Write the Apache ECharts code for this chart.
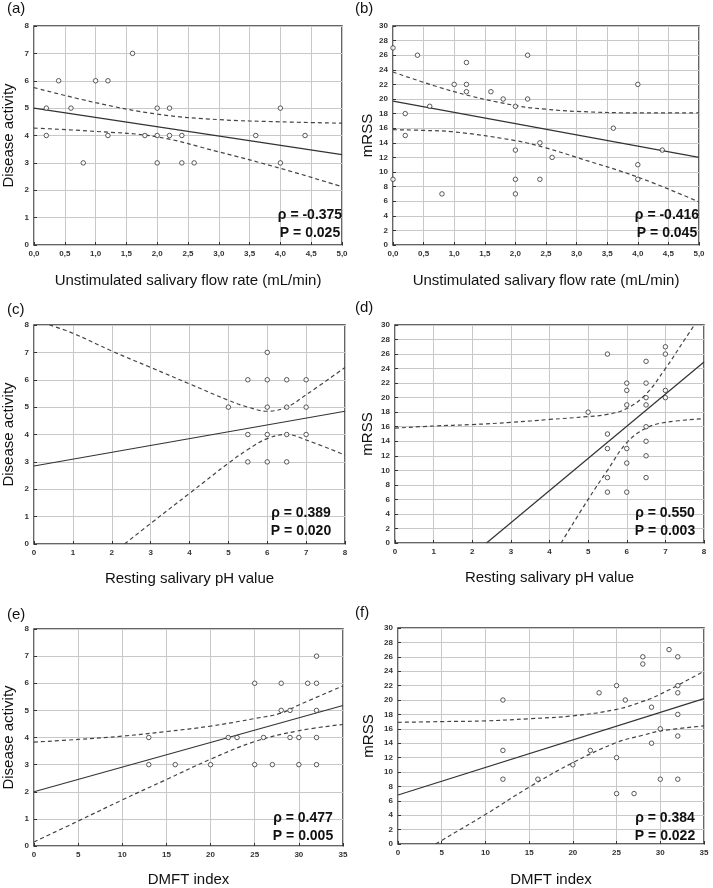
<!DOCTYPE html>
<html><head><meta charset="utf-8">
<script src="https://cdn.jsdelivr.net/npm/echarts@6/dist/echarts.min.js"></script>
<style>html,body{margin:0;padding:0;background:#fff}#c{width:713px;height:888px}</style>
</head><body><div id="c"></div>
<script>
// Panel (a): flow rate vs disease activity
const aX = [0.2,0.2,0.4,0.6,0.8,1.0,1.2,1.2,1.6,1.8,2.0,2.0,2.0,2.2,2.2,2.4,2.4,2.6,3.6,4.0,4.0,4.4];
const aY = [5,4,6,5,3,6,6,4,7,4,5,4,3,5,4,4,3,3,4,5,3,4];
const aFit = [[0,5.0],[5,3.3]];
const aUpper = [[0,5.75],[1,5.2],[2,4.78],[3,4.58],[4,4.5],[5,4.45]];
const aLower = [[0,4.27],[1,4.15],[2,3.95],[3,3.4],[4,2.8],[5,2.13]];
// Panel (b): flow rate vs mRSS
const bX = [0,0,0.2,0.2,0.4,0.6,0.8,1.0,1.2,1.2,1.2,1.6,1.8,2.0,2.0,2.0,2.0,2.2,2.2,2.4,2.4,2.6,3.6,4.0,4.0,4.0,4.4];
const bY = [27,9,18,15,26,19,7,22,25,22,21,21,20,19,13,9,7,26,20,14,9,12,16,22,11,9,13];
const bFit = [[0,19.7],[5,12.0]];
const bUpper = [[0,23.7],[1,21.0],[2,19.1],[2.5,18.6],[3,18.3],[4,18.1],[5,18.1]];
const bLower = [[0,15.8],[0.5,15.7],[1,15.5],[2,14.3],[2.5,13.3],[3,12.0],[4,9.3],[5,5.9]];
// Panel (c): pH vs disease activity
const cX = [5,5.5,5.5,5.5,6,6,6,6,6,6.5,6.5,6.5,6.5,7,7,7];
const cY = [5,6,4,3,7,6,5,4,3,6,5,4,3,6,5,4];
const cFit = [[0,2.85],[8,4.85]];
const cUpper = [[0.4,8],[1,7.7],[2,7.05],[3,6.45],[4,5.85],[5,5.25],[5.5,5.0],[6,4.85],[6.5,5.0],[7,5.45],[8,6.45]];
const cLower = [[2.33,0],[3,0.75],[4,1.85],[5,2.95],[5.5,3.45],[6,3.85],[6.5,4.0],[7,3.8],[8,3.25]];
// Panel (d): pH vs mRSS
const dX = [5,5.5,5.5,5.5,5.5,5.5,6,6,6,6,6,6,6.5,6.5,6.5,6.5,6.5,6.5,6.5,6.5,7,7,7,7];
const dY = [18,26,15,13,9,7,22,21,19,13,11,7,25,22,20,19,16,14,12,9,27,26,21,20];
const dFit = [[2.37,0],[8,24.9]];
const dUpper = [[0,15.8],[1,16.1],[2,16.3],[3,16.6],[4,17.0],[5,17.4],[5.5,17.7],[6,18.5],[6.5,20.5],[7,24.0],[7.5,28.0],[7.75,30]];
const dLower = [[4.3,0],[5,6.0],[5.5,10.0],[6,13.8],[6.5,15.8],[7,16.6],[8,17.1]];
// Panel (e): DMFT vs disease activity
const eX = [13,13,16,20,22,23,25,25,26,27,28,28,29,29,30,30,31,32,32,32,32,32];
const eY = [4,3,3,3,4,4,6,3,4,3,6,5,5,4,4,3,6,7,6,5,4,3];
const eFit = [[0,2.0],[35,5.18]];
const eUpper = [[0,3.83],[5,3.93],[10,4.05],[15,4.22],[20,4.42],[25,4.7],[28,4.9],[30,5.2],[35,5.9]];
const eLower = [[0,0.15],[5,0.92],[10,1.7],[15,2.45],[20,3.2],[25,3.85],[30,4.25],[35,4.48]];
// Panel (f): DMFT vs mRSS
const fX = [12,12,12,16,20,22,23,25,25,25,26,27,28,28,29,29,30,30,31,32,32,32,32,32,32];
const fY = [20,13,9,9,11,13,21,22,12,7,20,7,26,25,19,14,16,9,27,26,22,21,18,15,9];
const fFit = [[0,6.8],[35,20.2]];
const fUpper = [[0,16.9],[5,17.0],[10,17.1],[15,17.4],[20,17.8],[25,18.7],[28,19.8],[30,20.8],[35,24.0]];
const fLower = [[4.3,0],[5,0.5],[10,4.1],[15,7.9],[20,11.3],[25,14.1],[28,15.1],[30,15.7],[35,16.4]];

const panelLabels = ['(a)','(b)','(c)','(d)','(e)','(f)'];
const xTitles = ['Unstimulated salivary flow rate (mL/min)','Unstimulated salivary flow rate (mL/min)','Resting salivary pH value','Resting salivary pH value','DMFT index','DMFT index'];
const yTitles = ['Disease activity','mRSS','Disease activity','mRSS','Disease activity','mRSS'];
const rhoTexts = ['ρ = -0.375','ρ = -0.416','ρ = 0.389','ρ = 0.550','ρ = 0.477','ρ = 0.384'];
const pTexts = ['P = 0.025','P = 0.045','P = 0.020','P = 0.003','P = 0.005','P = 0.022'];

const xs = [aX,bX,cX,dX,eX,fX], ys = [aY,bY,cY,dY,eY,fY];
const fits = [aFit,bFit,cFit,dFit,eFit,fFit];
const uppers = [aUpper,bUpper,cUpper,dUpper,eUpper,fUpper];
const lowers = [aLower,bLower,cLower,dLower,eLower,fLower];

const grids = [
  {left:33,top:26,width:309,height:219},
  {left:393,top:26,width:306,height:219},
  {left:33,top:325,width:312,height:219},
  {left:395,top:325,width:309,height:218},
  {left:32,top:629,width:311,height:220},
  {left:398,top:628,width:306,height:219}
];
const xRanges = [[0,5,0.5,true],[0,5,0.5,true],[0,8,1,false],[0,8,1,false],[0,35,5,false],[0,35,5,false]];
const yRanges = [[0,8,1],[0,30,2],[0,8,1],[0,30,2],[0,8,1],[0,30,2]];
const labelPos = [[7,9],[355,9],[7,310],[355,308],[7,615],[355,613]];
const statPos = [[310,215],[667,215],[301,513],[665,513],[303,818],[665,818]];
const yNameGap = [18,18,18,20,18,22];
const xNameGap = [28,28,27,27,26,28];

const FONT = 'Liberation Sans, Arial, sans-serif';
const option = {animation:false, grid:[], xAxis:[], yAxis:[], series:[], graphic:[]};
grids.forEach((g,i)=>{
  option.grid.push(Object.assign({show:true,borderColor:'#333',borderWidth:1.5,backgroundColor:'#fff'},g));
  const xr = xRanges[i], yr = yRanges[i];
  option.xAxis.push({
    gridIndex:i,type:'value',min:xr[0],max:xr[1],interval:xr[2],
    name:xTitles[i],nameLocation:'middle',nameGap:xNameGap[i],
    nameTextStyle:{fontFamily:FONT,fontSize:15,color:'#111',verticalAlign:'top'},
    axisLine:{show:false},axisTick:{show:true,inside:true,length:3,lineStyle:{color:'#333'}},
    axisLabel:{fontFamily:FONT,fontSize:8,fontWeight:'bold',color:'#333',margin:5,
      formatter:xr[3]?(v=>v.toFixed(1).replace('.',',')):(v=>String(v))},
    splitLine:{show:true,lineStyle:{color:'#c8c8c8',width:1}}
  });
  option.yAxis.push({
    gridIndex:i,type:'value',min:yr[0],max:yr[1],interval:yr[2],
    name:yTitles[i],nameLocation:'middle',nameGap:yNameGap[i],nameRotate:90,
    nameTextStyle:{fontFamily:FONT,fontSize:15,color:'#111'},
    axisLine:{show:false},axisTick:{show:true,inside:true,length:3,lineStyle:{color:'#333'}},
    axisLabel:{fontFamily:FONT,fontSize:8,fontWeight:'bold',color:'#333',margin:5},
    splitLine:{show:true,lineStyle:{color:'#c8c8c8',width:1}}
  });
  option.series.push({type:'line',xAxisIndex:i,yAxisIndex:i,data:uppers[i],smooth:0.4,symbol:'none',clip:true,
    lineStyle:{color:'#444',width:1.2,type:[4,3]},z:3});
  option.series.push({type:'line',xAxisIndex:i,yAxisIndex:i,data:lowers[i],smooth:0.4,symbol:'none',clip:true,
    lineStyle:{color:'#444',width:1.2,type:[4,3]},z:3});
  option.series.push({type:'line',xAxisIndex:i,yAxisIndex:i,data:fits[i],symbol:'none',clip:true,
    lineStyle:{color:'#333',width:1.2},z:3});
  option.series.push({type:'scatter',xAxisIndex:i,yAxisIndex:i,data:xs[i].map((x,k)=>[x,ys[i][k]]),
    symbol:'circle',symbolSize:4.5,itemStyle:{color:'#fff',borderColor:'#333',borderWidth:1},z:4});
  option.graphic.push({type:'text',left:labelPos[i][0],top:labelPos[i][1]-8,
    style:{text:panelLabels[i],font:'15px '+FONT,fill:'#111'}});
  option.graphic.push({type:'text',x:statPos[i][0],y:statPos[i][1],z:10,
    style:{text:rhoTexts[i],font:'bold 14px '+FONT,fill:'#111',align:'center',verticalAlign:'middle'}});
  option.graphic.push({type:'text',x:statPos[i][0],y:statPos[i][1]+18,z:10,
    style:{text:pTexts[i],font:'bold 14px '+FONT,fill:'#111',align:'center',verticalAlign:'middle'}});
});
const chart = echarts.init(document.getElementById('c'),null,{renderer:'canvas'});
chart.setOption(option);
</script></body></html>
